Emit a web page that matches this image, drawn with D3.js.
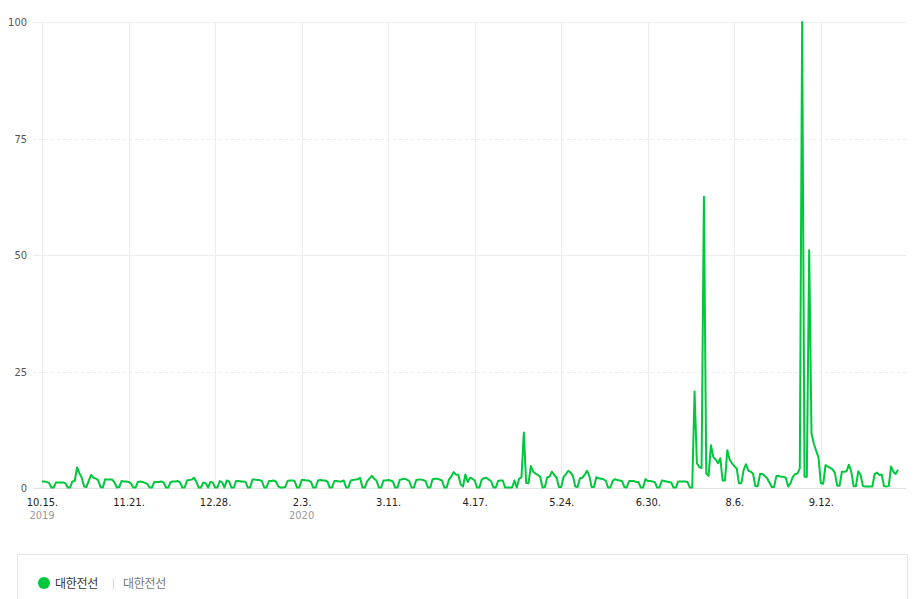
<!DOCTYPE html>
<html><head><meta charset="utf-8">
<script src="https://cdn.jsdelivr.net/npm/d3@7"></script>
<style>
html,body{margin:0;padding:0;background:#fff;}
svg{display:block;}
</style>
</head><body>
<svg id="chart" width="914" height="599"></svg>
<script>
// ---- data ----
const seriesName = "대한전선";
const startDate = "2019-10-15";
// daily values, 2019-10-15 .. 2020-10-15
const values = [
 1.4,1.4,1.3,1.1,0.1,0.1,1.2,
 1.2,1.2,1.2,1.0,0.1,0.1,1.4,
 1.5,4.4,3.2,2.2,0.3,0.2,1.6,
 2.8,2.2,2.0,1.7,0.2,0.1,1.9,
 1.8,1.8,1.8,1.2,0.1,0.2,1.5,
 1.4,1.4,1.3,1.0,0.1,0.1,1.3,
 1.4,1.3,1.1,0.9,0.1,0.1,1.3,
 1.3,1.3,1.4,1.2,0.1,0.1,1.3,
 1.4,1.4,1.5,1.2,0.1,0.1,1.6,
 1.7,1.8,2.2,1.3,0.1,0.1,1.2,
 1.0,0.1,1.3,1.2,0.1,0.1,1.5,
 1.2,0.1,1.6,1.4,0.1,0.1,1.5,
 1.5,1.4,1.4,1.3,0.1,0.1,1.8,
 1.8,1.7,1.7,1.5,0.1,0.1,1.5,
 1.5,1.6,1.4,0.3,0.1,0.1,0.2,
 1.5,1.6,1.6,1.5,0.1,0.1,1.7,
 1.7,1.6,1.6,1.3,0.1,0.1,1.6,
 1.7,1.6,1.6,1.4,0.1,0.1,1.5,
 1.5,1.4,1.4,1.6,0.1,0.1,1.6,
 1.7,1.8,1.9,2.2,0.1,0.1,1.4,
 2.0,2.6,2.0,1.6,0.1,0.1,1.6,
 1.6,1.7,1.6,1.4,0.1,0.1,1.8,
 1.9,2.0,1.8,1.5,0.1,0.1,1.7,
 1.8,1.8,1.7,1.5,0.1,0.1,1.9,
 2.0,2.0,1.8,1.6,0.1,0.1,1.8,
 2.5,3.4,2.9,2.8,0.8,0.3,2.9,
 1.3,2.2,2.0,1.6,0.1,0.1,1.8,
 2.1,2.2,1.8,1.5,0.1,0.1,1.5,
 1.6,1.6,0.1,0.1,0.1,0.1,1.6,
 0.1,2.0,2.3,11.9,1.1,1.0,4.7,
 3.5,3.1,2.8,2.4,0.1,0.2,2.3,
 2.4,3.5,2.8,2.2,0.2,0.2,2.4,
 3.0,3.7,3.3,2.6,0.3,0.2,2.1,
 2.2,2.8,3.7,2.6,0.2,0.2,2.3,
 2.1,2.0,1.9,1.6,0.1,0.1,1.5,
 1.9,1.7,1.6,1.5,0.2,0.1,1.5,
 1.5,1.5,1.3,1.3,0.1,0.1,1.9,
 1.5,1.5,1.4,1.3,0.1,0.1,1.6,
 1.5,1.4,1.3,1.2,0.1,0.1,1.4,
 1.4,1.4,1.4,1.3,0.1,0.1,20.7,
 5.3,4.5,4.3,62.5,3.1,2.6,9.2,
 6.7,6.1,5.3,6.4,1.6,1.6,8.1,
 6.1,5.3,4.7,4.2,1.0,1.0,3.9,
 5.1,3.7,3.5,3.1,0.4,0.4,3.0,
 3.0,2.6,2.1,1.2,0.2,0.2,2.6,
 2.6,2.4,2.4,2.2,0.3,1.0,2.4,
 3.0,3.1,4.2,100,2.4,2.4,51,
 11.7,9.5,8.0,6.5,1.0,0.9,4.9,
 4.6,4.3,4.0,3.2,0.5,0.5,3.5,
 3.5,3.6,5.0,3.5,0.4,0.4,3.6,
 2.8,0.4,0.3,0.3,0.3,0.3,3.0,
 3.3,2.8,2.9,0.4,0.3,0.4,4.6,
 3.5,3.0,3.9
];
const xTickLabels = ["10.15.","11.21.","12.28.","2.3.","3.11.","4.17.","5.24.","6.30.","8.6.","9.12."];
const xTickYears  = ["2019","","","2020","","","","","",""];
const xTickStep = 37; // days between ticks
const yTicks = [0,25,50,75,100];

// ---- layout ----
const svg = d3.select("#chart");
const plotLeft = 42, plotRight = 906, plotTop = 22, plotBottom = 488;
const lineColor = "#00c73c";
const labelFont = "'Liberation Sans Narrow','DejaVu Sans Condensed',Arial,sans-serif";

const x = d3.scaleLinear().domain([0, 369.4]).range([plotLeft, plotRight]);
const y = d3.scaleLinear().domain([0, 100]).range([plotBottom, plotTop]);

const xTickVals = xTickLabels.map((_, i) => i * xTickStep);

// vertical grid
svg.append("g").selectAll("line").data(xTickVals).join("line")
  .attr("x1", d => Math.round(x(d)) + 0.5).attr("x2", d => Math.round(x(d)) + 0.5)
  .attr("y1", plotTop).attr("y2", plotBottom)
  .attr("stroke", "#ececec").attr("stroke-width", 1);

// horizontal grid
svg.append("g").selectAll("line").data(yTicks).join("line")
  .attr("x1", 33).attr("x2", plotRight)
  .attr("y1", d => Math.round(y(d)) + 0.5).attr("y2", d => Math.round(y(d)) + 0.5)
  .attr("stroke", d => d === 0 ? "#e2e2e2" : "#ececec")
  .attr("stroke-width", 1)
  .attr("stroke-dasharray", d => (d === 25 || d === 75) ? "3,3" : null);

// y labels via axis
const yAxis = d3.axisLeft(y).tickValues(yTicks).tickSize(0).tickPadding(0);
const gy = svg.append("g").attr("transform", "translate(27,0)").call(yAxis);
gy.select(".domain").remove();
gy.selectAll("text")
  .attr("fill", "#555").attr("font-size", "11px")
  .attr("font-family", labelFont);

// x labels via axis
const xAxis = d3.axisBottom(x).tickValues(xTickVals).tickSize(0).tickPadding(0)
  .tickFormat((d, i) => xTickLabels[i]);
const gx = svg.append("g").attr("transform", `translate(0,${plotBottom + 10})`).call(xAxis);
gx.select(".domain").remove();
gx.selectAll("text")
  .attr("fill", "#222").attr("font-size", "11px")
  .attr("font-family", labelFont);

svg.append("g").selectAll("text").data(xTickVals).join("text")
  .attr("x", d => x(d)).attr("y", 519)
  .attr("text-anchor", "middle")
  .attr("fill", "#999").attr("font-size", "11px")
  .attr("font-family", labelFont)
  .text((d, i) => xTickYears[i]);

// line
const line = d3.line().x((d, i) => x(i)).y(d => y(d)).curve(d3.curveLinear);
svg.append("path").datum(values)
  .attr("d", line)
  .attr("fill", "none")
  .attr("stroke", lineColor)
  .attr("stroke-width", 2)
  .attr("stroke-linejoin", "round");

// legend
svg.append("rect").attr("x", 17.5).attr("y", 554.5).attr("width", 890).attr("height", 60)
  .attr("fill", "#fff").attr("stroke", "#e5e5e5");
svg.append("circle").attr("cx", 44).attr("cy", 583).attr("r", 6).attr("fill", lineColor);
svg.append("text").attr("x", 55).attr("y", 588)
  .attr("font-family", "'Noto Sans CJK KR',sans-serif").attr("font-size", "12px")
  .attr("letter-spacing", "-0.3px")
  .attr("fill", "#333").text(seriesName);
svg.append("line").attr("x1", 113.5).attr("x2", 113.5).attr("y1", 578).attr("y2", 590)
  .attr("stroke", "#ddd");
svg.append("text").attr("x", 123).attr("y", 588)
  .attr("font-family", "'Noto Sans CJK KR',sans-serif").attr("font-size", "12px")
  .attr("letter-spacing", "-0.3px")
  .attr("fill", "#777").text(seriesName);
</script>
</body></html>
